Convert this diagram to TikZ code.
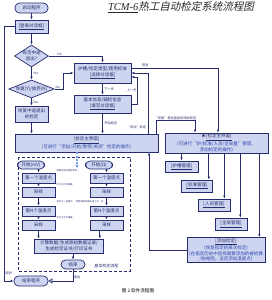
\documentclass[tikz,border=0pt]{standalone}
\usepackage{fontspec}
\setmainfont{Noto Sans CJK SC}
\newfontfamily\slantcjk{Noto Sans CJK SC}[FakeSlant=0.22]
\newfontfamily\titlelat{Liberation Serif}
\usetikzlibrary{arrows.meta,shapes.geometric,calc}

\definecolor{boxfill}{RGB}{205,213,240}
\definecolor{navy}{RGB}{38,44,110}
\definecolor{linkblue}{RGB}{50,70,175}
\definecolor{flowblue}{RGB}{125,155,232}

\newcommand{\lnk}[1]{\underline{#1}}
\newcommand{\note}[1]{{\color{linkblue}#1}}

\tikzset{
  flowbox/.style={draw=navy, fill=boxfill, line width=0.7pt, align=center,
    inner sep=0.8pt, text=navy, font=\fontsize{4.5}{5.6}\selectfont},
  termbox/.style={flowbox, rounded corners=4.5pt},
  decbox/.style={flowbox, diamond, inner sep=0pt},
  arr/.style={draw=navy, line width=0.8pt, -{Latex[length=3pt,width=2.4pt]}},
  backarr/.style={draw=navy, line width=0.8pt, -{Triangle[open,length=4pt,width=5pt]}},
  flowarr/.style={draw=flowblue, line width=1.3pt, dash pattern=on 2pt off 1.2pt,
    -{Latex[length=3.5pt,width=3.5pt]}},
  lbl/.style={text=navy, font=\fontsize{3.2}{3.8}\selectfont, inner sep=0.5pt},
  tinylbl/.style={text=navy, font=\fontsize{2.3}{2.7}\selectfont, inner sep=0.3pt, anchor=west},
}

\begin{document}
\begin{tikzpicture}[x=1pt,y=-1pt]
    \useasboundingbox (0,0) rectangle (272,300);

    % Title
    \node[inner sep=0, text=black!85, font=\fontsize{10.5}{12}\selectfont] (title) at (181,7.5)
        {{\titlelat\itshape\underline{TCM-6}}{\slantcjk 热工自动检定系统流程图}};

    % Start, login and decisions
    \node[termbox, minimum width=33pt, minimum height=10pt] (start) at (31.5,8) {启动程序};
    \node[flowbox, minimum width=33pt, minimum height=13pt] (login) at (31.5,26.5) {\lnk{[登录对话框]}};
    \node[decbox, aspect=1.6, minimum width=34pt, minimum height=22pt] (quit) at (31.5,56) {有否中途\\退出?};
    \node[decbox, aspect=3, minimum width=44pt, minimum height=18pt] (resq) at (31.5,89) {恢复(Y)/放弃(N)};
    \node[flowbox, minimum width=33pt, minimum height=16pt] (resume) at (31.5,114) {恢复中途退出\\的检定};

    % Selection and info dialogs
    \node[flowbox, minimum width=57pt, minimum height=20pt] (sel) at (102.5,73) {炉槽/检定类型/使用标准\\\lnk{[选择对话框]}};
    \node[flowbox, minimum width=57pt, minimum height=18pt] (info) at (102.5,104) {基本信息/辅检信息\\\lnk{[填写对话框]}};

    % Main interfaces
    \node[flowbox, minimum width=143pt, minimum height=18pt] (mainL) at (86.5,143)
        {\lnk{[检定主界面]}\\\note{(可进行“添加/开始/暂停/关闭”检定的操作)}};
    \node[flowbox, minimum width=103pt, minimum height=20pt] (mainR) at (216.5,143)
        {★\lnk{[检定主界面]}\\\note{(可进行“炉/标准/人员/全局量”管理，}\\\note{添加检定的操作)}};

    % Management boxes
    \node[flowbox, minimum width=33pt, minimum height=11pt] (furn) at (181.5,166.5) {\lnk{[炉槽管理]}};
    \node[flowbox, minimum width=31pt, minimum height=12pt] (std) at (197,186) {\lnk{[标准管理]}};
    \node[flowbox, minimum width=32pt, minimum height=12pt] (staff) at (214,205) {\lnk{[人员管理]}};
    \node[flowbox, minimum width=32pt, minimum height=12pt] (glob) at (231,224) {\lnk{[全局管理]}};
    \node[flowbox, minimum width=78pt, minimum height=24pt] (add) at (226,250)
        {\lnk{[添加检定]}\\\note{(恢复指定的某次检定)}\\\note{(在指定历史中选择需要添加的被检偶}\\\note{/铂电阻，设定添加温度点)}};

    % Basic verification flow
    \draw[navy, line width=0.7pt, dash pattern=on 3pt off 2pt] (18,157) rectangle (130,271);
    \foreach \c/\x/\u in {l/38.5/mV, r/106.5/Ω} {
        \node[termbox, minimum width=27pt, minimum height=8pt] (\c-st) at (\x-7.5,165) {开始(\u)};
        \node[flowbox, minimum width=33pt, minimum height=10pt] (\c-1) at (\x,178) {第一个温度点};
        \node[flowbox, minimum width=33pt, minimum height=10pt] (\c-s1) at (\x,192) {采样};
        \node[flowbox, minimum width=33pt, minimum height=10pt] (\c-n) at (\x,211) {第N个温度点};
        \node[flowbox, minimum width=33pt, minimum height=10pt] (\c-s2) at (\x,225) {采样};
        \draw[arr] (\c-st.south -| \c-1.north) -- (\c-1.north);
        \draw[arr] (\c-1) -- (\c-s1);
        \draw[arr] (\c-s1) -- (\c-n);
        \draw[arr] (\c-n) -- (\c-s2);
    }
    \node[tinylbl] (lab1) at (56,170.5) {温度点到达稳定条件};
    \node[tinylbl] (lab2) at (56,184.5) {不大于允许偏差};
    \node[tinylbl] (lab3) at (56,201.5) {到达下一温度点};
    \node[tinylbl, anchor=east] (lab4) at (104,201.5) {所有被检完成后进入下一点};
    \node[tinylbl] (lab5) at (56,218) {不大于允许偏差};

    \node[flowbox, minimum width=69pt, minimum height=14pt] (calc) at (69,246) {计算数据/生成原始数据记录/\\生成检定证书/打印证书};
    \node[termbox, minimum width=24pt, minimum height=9pt] (stop) at (73,264.5) {结束};
    \node[lbl, font=\slantcjk\fontsize{4}{4.5}\selectfont] (flowname) at (106,266) {基本检定流程};
    \node[termbox, minimum width=34pt, minimum height=10pt] (endp) at (31,281) {结束程序};

    % Caption
    \node[text=black, font=\fontsize{4.6}{5}\selectfont] (caption) at (138,291) {图 2 软件流程图};

    % Connectors on the left
    \draw[arr] (start) -- (login);
    \draw[arr] (login) -- (quit);
    \draw[arr] (quit) -- (resq) node[lbl, midway, right=1pt] {Yes};
    \draw[arr] (resq) -- (resume) node[lbl, midway, right=1pt] {Yes};
    \draw[arr] (resume) -- (resume.south |- mainL.north);
    \draw[arr] (quit.east) -| (sel.north) node[lbl, pos=0.1, above] {No};
    \draw[arr] (resq.east) node[lbl, above right] {No} -| ([xshift=-10pt]sel.west) -- (sel.west);
    \draw[arr] (login.west) -- ++(-10,0) |- (endp.west) node[lbl, pos=0.485, right] {取消};

    % Dialog connectors
    \draw[arr] (sel) -- (info) node[lbl, midway, right=1pt] {下一步};
    \draw[arr] (info.east) -- ++(6,0) |- ([yshift=-4pt]sel.east) node[lbl, pos=0.25, left] {上一步};
    \draw[arr] ([yshift=5pt]sel.east) -| ([xshift=1.5pt]mainR.north) node[lbl, pos=0.08, above] {取消};
    \draw[arr] ([xshift=61.5pt]mainL.north) |- (sel.east) node[lbl, pos=0.05, left=1pt] {“添加”检定};
    \draw[arr] ([xshift=69.5pt]mainL.north) -- ++(0,-13) -| ([xshift=-21.5pt]mainR.north)
        node[lbl, pos=0.25, above] {“恢复”检定直接到添加检定};
    \draw[arr] (info.south) -- (info.south |- mainL.north) node[lbl, midway, right=1pt] {开始检定};

    % Management connectors
    \draw[arr] (mainR.south -| furn.north) -- (furn.north);
    \foreach \b/\d in {std/4pt, staff/6pt, glob/7pt, add/6pt} {
        \coordinate (t-\b) at ([xshift=-\d]\b.north east);
        \draw[arr] (mainR.south -| t-\b) -- (t-\b);
    }
    \draw[arr] (add.west) -| ([xshift=62.5pt]mainL.south);

    % Flow inside the basic verification
    \draw[flowarr] ([xshift=-9.5pt]mainL.south) -- ++(0,16) coordinate (flowend);
    \draw[arr] (l-s2.south) -- (l-s2.south |- calc.north);
    \coordinate (calcR) at ([xshift=-4pt]calc.north east);
    \draw[arr] (r-s2.south -| calcR) -- (calcR);
    \draw[arr] (calc.south -| stop.north) -- (stop.north);
    \draw[backarr] (stop.south) |- (endp.east) node[lbl, pos=0.35, right] {退出};
\end{tikzpicture}
\end{document}
